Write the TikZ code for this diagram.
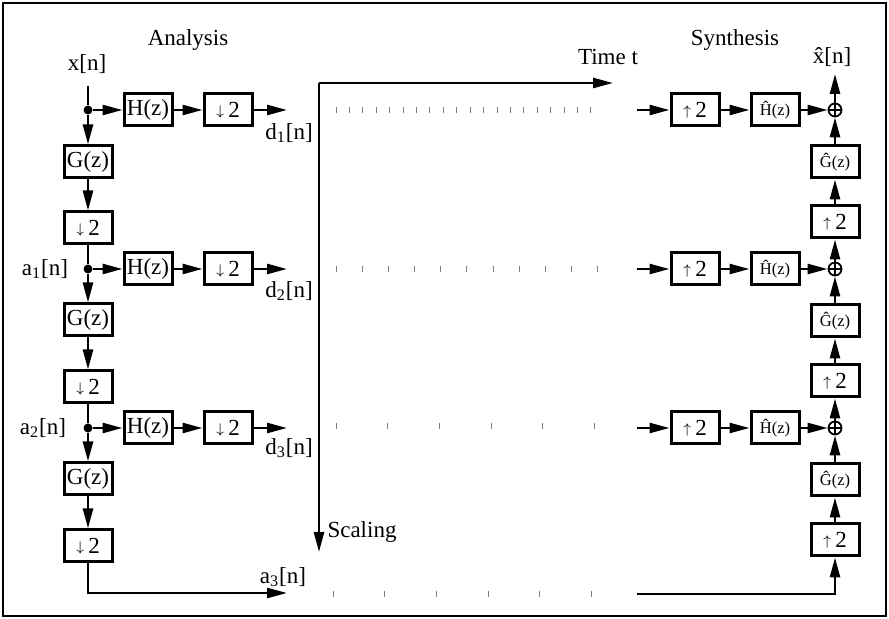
\documentclass[tikz,border=0pt]{standalone}
\usepackage{fontspec}
\setmainfont{Liberation Serif}
\usetikzlibrary{arrows.meta,positioning,calc}
\newcommand{\dnsamp}{\raisebox{1pt}{\fontsize{7}{8}\selectfont$\downarrow$}\,2}
\newcommand{\upsamp}{\raisebox{1pt}{\fontsize{7}{8}\selectfont$\uparrow$}\,2}

\begin{document}
\begin{tikzpicture}[x=0.5pt,y=-0.5pt, >={Triangle[length=10pt,width=5pt]},
  box/.style={draw,line width=1.5pt,minimum width=24pt,minimum height=16pt,inner sep=0pt,font=\fontsize{11.5}{13}\selectfont},
  hbox/.style={box,font=\fontsize{8.3}{10}\selectfont},
  lbl/.style={inner sep=0pt,font=\fontsize{11.5}{13}\selectfont},
  sig/.style={line width=1.25pt},
  tick/.style={gray,line width=0.5pt},
  dot/.style={circle,fill,inner sep=0pt,minimum size=4.5pt},
  sumnode/.style={circle,draw,line width=0.9pt,minimum size=6.5pt,inner sep=0pt,
    path picture={\draw[line width=0.9pt] (path picture bounding box.north)--(path picture bounding box.south)
      (path picture bounding box.west)--(path picture bounding box.east);}}]
\useasboundingbox (0,0) rectangle (889,619);
\draw[line width=1.4pt] (3,3) rectangle (886,616);
% analysis side
\node[lbl] (ana) at (188,40) {Analysis};
\node[lbl] (x) at (87,64) {x[n]};
\coordinate (x0) at (88,86);
\node[dot] (s1) at (88,110) {};
\node[box] (h1) at (148,110) {H(z)};
\node[box] (dn1) at (228,110) {\dnsamp};
\coordinate (e1) at (287,110);
\node[lbl] (d1) at (289,133) {d\textsubscript{1}[n]};
\node[box] (g1) at (88,162) {G(z)};
\node[box] (gd1) at (88,228) {\dnsamp};
\node[dot] (s2) at (88,269) {};
\node[lbl] (a1) at (45,269) {a\textsubscript{1}[n]};
\node[box] (h2) at (148,269) {H(z)};
\node[box] (dn2) at (228,269) {\dnsamp};
\coordinate (e2) at (287,269);
\node[lbl] (d2) at (289,291) {d\textsubscript{2}[n]};
\node[box] (g2) at (88,320) {G(z)};
\node[box] (gd2) at (88,387) {\dnsamp};
\node[dot] (s3) at (88,428) {};
\node[lbl] (a2) at (43,428) {a\textsubscript{2}[n]};
\node[box] (h3) at (148,428) {H(z)};
\node[box] (dn3) at (228,428) {\dnsamp};
\coordinate (e3) at (287,428);
\node[lbl] (d3) at (289,448) {d\textsubscript{3}[n]};
\node[box] (g3) at (88,479) {G(z)};
\node[box] (gd3) at (88,546) {\dnsamp};
\coordinate (e4) at (287,593);
\node[lbl] (a3) at (283,577) {a\textsubscript{3}[n]};
\draw[sig] (x0)--(s1); \draw[sig,->] (s1)--(h1); \draw[sig,->] (h1)--(dn1); \draw[sig,->] (dn1)--(e1);
\draw[sig,->] (s1)--(g1); \draw[sig,->] (g1)--(gd1); \draw[sig] (gd1)--(s2);
\draw[sig,->] (s2)--(h2); \draw[sig,->] (h2)--(dn2); \draw[sig,->] (dn2)--(e2);
\draw[sig,->] (s2)--(g2); \draw[sig,->] (g2)--(gd2); \draw[sig] (gd2)--(s3);
\draw[sig,->] (s3)--(h3); \draw[sig,->] (h3)--(dn3); \draw[sig,->] (dn3)--(e3);
\draw[sig,->] (s3)--(g3); \draw[sig,->] (g3)--(gd3); \draw[sig,->] (gd3.south) |- (e4);
% time-scale plane
\coordinate (o) at (319,83);
\coordinate (tend) at (613,83);
\coordinate (send) at (319,552);
\draw[sig,->] (o)--(tend); \draw[sig,->] (o)--(send);
\node[lbl] (time) at (608,57) {Time t};
\node[lbl] (scal) at (362,532) {Scaling};
\foreach \i in {0,...,19} \draw[tick] ({336+\i*13.42},107)--++(0,6);
\foreach \i in {0,...,10} \draw[tick] ({336+\i*26.17},266)--++(0,6);
\foreach \i in {0,...,5} \draw[tick] ({336+\i*51.7},423)--++(0,6);
\foreach \i in {0,...,5} \draw[tick] ({333+\i*51.7},591)--++(0,6);
% synthesis side
\node[lbl] (syn) at (735,40) {Synthesis};
\node[lbl] (xh) at (832,57) {\^{x}[n]};
\coordinate (xout) at (835,74);
\coordinate (b1) at (637,110);
\node[box] (u1) at (695,110) {\upsamp};
\node[hbox] (hh1) at (775,110) {\^{H}(z)};
\node[sumnode] (p1) at (835,110) {};
\node[hbox] (gg1) at (835,162) {\^{G}(z)};
\node[box] (uu1) at (835,222) {\upsamp};
\coordinate (b2) at (637,269);
\node[box] (u2) at (695,269) {\upsamp};
\node[hbox] (hh2) at (775,269) {\^{H}(z)};
\node[sumnode] (p2) at (835,269) {};
\node[hbox] (gg2) at (835,321) {\^{G}(z)};
\node[box] (uu2) at (835,381) {\upsamp};
\coordinate (b3) at (637,428);
\node[box] (u3) at (695,428) {\upsamp};
\node[hbox] (hh3) at (775,428) {\^{H}(z)};
\node[sumnode] (p3) at (835,428) {};
\node[hbox] (gg3) at (835,480) {\^{G}(z)};
\node[box] (uu3) at (835,540) {\upsamp};
\coordinate (b4) at (637,594);
\draw[sig,->] (b1)--(u1); \draw[sig,->] (u1)--(hh1); \draw[sig,->] (hh1)--(p1);
\draw[sig,->] (b2)--(u2); \draw[sig,->] (u2)--(hh2); \draw[sig,->] (hh2)--(p2);
\draw[sig,->] (b3)--(u3); \draw[sig,->] (u3)--(hh3); \draw[sig,->] (hh3)--(p3);
\draw[sig,->] (b4) -| (uu3); \draw[sig,->] (uu3)--(gg3); \draw[sig,->] (gg3)--(p3);
\draw[sig,->] (p3)--(uu2); \draw[sig,->] (uu2)--(gg2); \draw[sig,->] (gg2)--(p2);
\draw[sig,->] (p2)--(uu1); \draw[sig,->] (uu1)--(gg1); \draw[sig,->] (gg1)--(p1);
\draw[sig,->] (p1)--(xout);
\end{tikzpicture}
\end{document}
